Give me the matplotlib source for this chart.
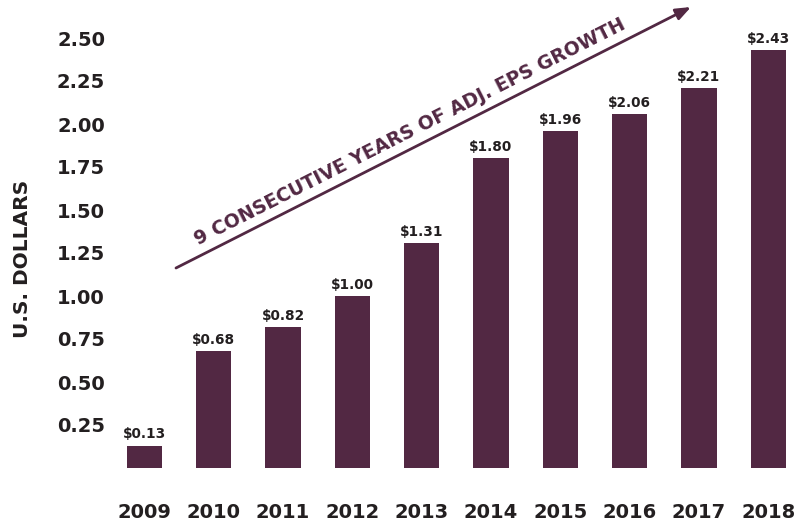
import matplotlib
matplotlib.use("Agg")
import matplotlib.pyplot as plt
import numpy as np

years = ["2009", "2010", "2011", "2012", "2013", "2014", "2015", "2016", "2017", "2018"]
eps = [0.13, 0.68, 0.82, 1.00, 1.31, 1.80, 1.96, 2.06, 2.21, 2.43]
value_labels = ["$0.13", "$0.68", "$0.82", "$1.00", "$1.31", "$1.80", "$1.96", "$2.06", "$2.21", "$2.43"]
ytick_vals = [0.25, 0.50, 0.75, 1.00, 1.25, 1.50, 1.75, 2.00, 2.25, 2.50]
ytick_labels = ["0.25", "0.50", "0.75", "1.00", "1.25", "1.50", "1.75", "2.00", "2.25", "2.50"]
ylabel = "U.S. DOLLARS"
banner = "9 CONSECUTIVE YEARS OF ADJ. EPS GROWTH"

BAR = "#522843"
TXT = "#231f20"
plt.rcParams['font.family'] = ['DejaVu Sans']

W, H = 800, 523
fig = plt.figure(figsize=(8, 5.23), dpi=100)
left_px, right_px = 112, 795
zero_px = 468
ax = fig.add_axes([left_px / W, (H - zero_px) / H, (right_px - left_px) / W, zero_px / H])

x = np.arange(len(years))
ax.bar(x, eps, width=0.51, color=BAR)
spacing = 69.3
ax.set_xlim(-(144.5 - left_px) / spacing, (right_px - 144.5) / spacing)
ax.set_ylim(0, zero_px / 172.0)

for xi, v, lab in zip(x, eps, value_labels):
    ax.annotate(lab, (xi, v), xytext=(0, 3), textcoords="offset points",
                ha="center", va="bottom", fontsize=9.8, fontweight="bold", color=TXT)

ax.set_xticks(x)
ax.set_xticklabels(years, fontsize=14, fontweight="bold", color=TXT)
ax.set_yticks(ytick_vals)
ax.set_yticklabels(ytick_labels, fontsize=14, fontweight="bold", color=TXT)
ax.tick_params(axis="x", length=0, pad=25)
ax.tick_params(axis="y", length=0, pad=5)
for s in ax.spines.values():
    s.set_visible(False)

fig.text(23 / W, 1 - 259 / H, ylabel, rotation=90, ha="center", va="center",
         fontsize=14.5, fontweight="bold", color=TXT)

ax.annotate("", xy=(691, H - 7), xycoords="figure pixels",
            xytext=(176, H - 268), textcoords="figure pixels",
            arrowprops=dict(arrowstyle="-|>,head_length=0.9,head_width=0.35",
                            color=BAR, lw=2.0, shrinkA=0, shrinkB=0))
ang = np.degrees(np.arctan2(261, 515))
fig.text(198 / W, 1 - 245 / H, banner, rotation=ang, rotation_mode="anchor",
         ha="left", va="baseline", fontsize=13.6, fontweight="bold", color=BAR)

fig.savefig("out.png", dpi=100)
